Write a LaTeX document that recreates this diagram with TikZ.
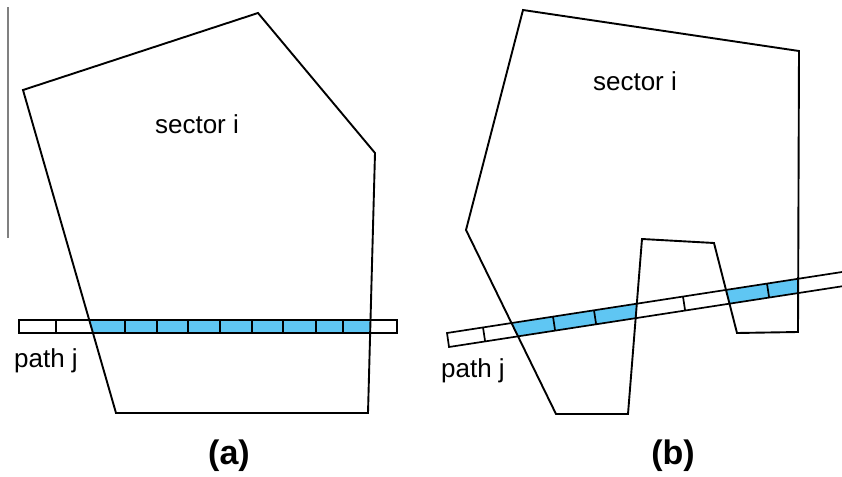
\documentclass[tikz,border=0pt]{standalone}
\usepackage{fontspec}
\setsansfont{Liberation Sans}
\definecolor{hitblue}{RGB}{95,198,243}
\begin{document}
\begin{tikzpicture}
  [x=0.5pt,y=-0.5pt,font=\sffamily\fontsize{13}{15}\selectfont,
   sec/.style={draw,line width=0.95pt,line join=miter},
   ray/.style={draw,line width=0.85pt},
   hit/.style={fill=hitblue},
   lbl/.style={inner sep=0pt},
   sub/.style={inner sep=0pt,font=\sffamily\bfseries\fontsize{17}{20}\selectfont}]

  \useasboundingbox (0,0) rectangle (842,477);

  % (a)
  \begin{scope}
    \clip (23,90) -- (258,13) -- (375,153) -- (368,413) -- (116,413) -- cycle;
    \fill[hit] (19,320) rectangle (397,333);
  \end{scope}
  \draw[ray] (19,320) rectangle (397,333);
  \draw[ray] (56,320) -- (56,333) (125,320) -- (125,333) (157,320) -- (157,333)
    (188,320) -- (188,333) (220,320) -- (220,333) (252,320) -- (252,333)
    (283,320) -- (283,333) (316,320) -- (316,333) (343,320) -- (343,333);
  \draw[sec] (23,90) -- (258,13) -- (375,153) -- (368,413) -- (116,413) -- cycle;
  \draw[gray,line width=0.7pt] (8,7) -- (8,238);

  \node[lbl] (seca) at (197,124) {sector i};
  \node[lbl] (patha) at (46,361) {path j};
  \node[sub] (suba) at (229,456) {(a)};

  % (b)
  \begin{scope}
    \clip (523,10) -- (799,51) -- (798,332) -- (737,333) -- (714,243) -- (642,239)
      -- (628,414) -- (556,414) -- (466,230) -- cycle;
    \fill[hit] (447,333) -- (842,272) -- (842,286.3) -- (449,347) -- cycle;
  \end{scope}
  \draw[ray] (842,272) -- (447,333) -- (449,347) -- (842,286.3);
  \draw[ray] (483,327.4) -- (485.1,341.2) (553,316.6) -- (555.1,330.4)
    (594,310.3) -- (596.1,324.1) (683,296.6) -- (685.1,310.4)
    (767,283.6) -- (769.1,297.4);
  \draw[sec] (523,10) -- (799,51) -- (798,332) -- (737,333) -- (714,243) -- (642,239)
    -- (628,414) -- (556,414) -- (466,230) -- cycle;

  \node[lbl] (secb) at (635,81) {sector i};
  \node[lbl] (pathb) at (473,371) {path j};
  \node[sub] (subb) at (673,456) {(b)};

\end{tikzpicture}
\end{document}
